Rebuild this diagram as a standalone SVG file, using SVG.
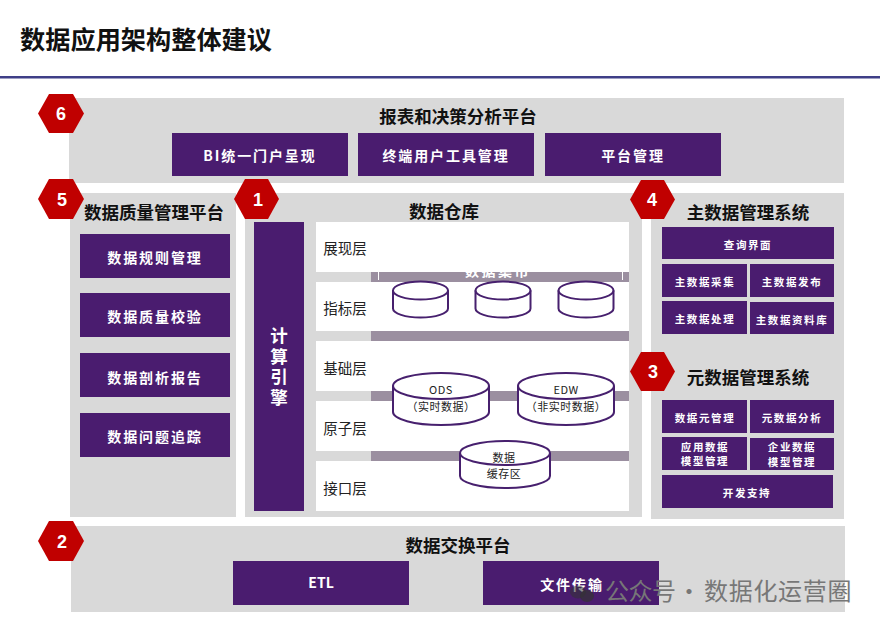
<svg xmlns="http://www.w3.org/2000/svg" width="880" height="626" viewBox="0 0 880 626">
<style>
text{font-family:"Noto Sans CJK SC","Liberation Sans",sans-serif;text-anchor:middle}
.panel{fill:#d9d9d9}
.box{fill:#4a1c6f}
.layer{fill:#fff}
.bar{fill:#9b8fa0}
.hex{fill:#c00000}
.num{fill:#fff;font:bold 18px "Liberation Sans","Noto Sans CJK SC",sans-serif}
.h{fill:#111;font-size:17.5px;font-weight:700}
.b1{fill:#fff;font-size:14px;font-weight:700;letter-spacing:1.9px}
.b2{fill:#fff;font-size:10.5px;font-weight:700;letter-spacing:1.6px}
.lay{fill:#222;font-size:14.5px}
.cyl{fill:#fff;stroke:#47206e;stroke-width:2}
.top{fill:none;stroke:#47206e;stroke-width:2}
.c{fill:#222;font-size:11px;letter-spacing:.5px}
.eng{fill:#fff;font-size:17.5px;font-weight:700;writing-mode:vertical-rl;letter-spacing:3px}
.wm{fill:#777;font-size:24px;text-anchor:start}
</style>
<rect width="880" height="626" fill="#fff"/>
<g id="header">
<text x="146" y="49" style="font-size:25.2px;font-weight:700;fill:#111">数据应用架构整体建议</text>
<rect x="0" y="76" width="880" height="2.5" fill="#3f3f87"/>
</g>
<g id="panel-6">
<rect class="panel" x="69" y="98" width="775" height="85"/>
<text class="h" x="458" y="123">报表和决策分析平台</text>
<rect class="box" x="172" y="133" width="176" height="43"/><text class="b1" x="260" y="161">BI统一门户呈现</text>
<rect class="box" x="358" y="133" width="176" height="43"/><text class="b1" x="446" y="161">终端用户工具管理</text>
<rect class="box" x="545" y="133" width="176" height="43"/><text class="b1" x="633" y="161">平台管理</text>
</g>
<g id="panel-5">
<rect class="panel" x="70" y="193" width="166" height="324"/>
<text class="h" x="154" y="219">数据质量管理平台</text>
<rect class="box" x="80" y="234" width="150" height="44"/><text class="b1" x="155" y="263">数据规则管理</text>
<rect class="box" x="80" y="293" width="150" height="44"/><text class="b1" x="155" y="322">数据质量校验</text>
<rect class="box" x="80" y="353" width="150" height="44"/><text class="b1" x="155" y="383">数据剖析报告</text>
<rect class="box" x="80" y="413" width="150" height="44"/><text class="b1" x="155" y="442">数据问题追踪</text>
</g>
<g id="panel-1">
<rect class="panel" x="245" y="193" width="397" height="324"/>
<text class="h" x="444" y="218">数据仓库</text>
<rect class="box" x="254" y="222" width="50" height="289"/>
<text class="eng" x="279" y="368">计算引擎</text>
<rect class="bar" x="371" y="272" width="258" height="10"/>
<text x="498" y="275.500" style="fill:#fff;font-size:14px;font-weight:700;letter-spacing:2.5px">数据集市</text>
<rect x="378" y="272" width="1" height="8" fill="#fff"/><rect x="622" y="272" width="1" height="8" fill="#fff"/>
<rect class="layer" x="316" y="222" width="313" height="50"/>
<rect class="layer" x="316" y="282" width="313" height="49"/>
<rect class="layer" x="316" y="341" width="313" height="50"/>
<rect class="layer" x="316" y="401" width="313" height="50"/>
<rect class="layer" x="316" y="461" width="313" height="50"/>
<rect class="bar" x="371" y="331" width="258" height="10"/>
<rect class="bar" x="371" y="391" width="258" height="10"/>
<rect class="bar" x="371" y="451" width="258" height="10"/>
<text class="lay" x="345" y="254">展现层</text>
<text class="lay" x="345" y="314">指标层</text>
<text class="lay" x="345" y="374">基础层</text>
<text class="lay" x="345" y="434">原子层</text>
<text class="lay" x="345" y="494">接口层</text>
<path class="cyl" d="M393 290.500a27.500 9 0 0 1 55 0v18a27.500 9 0 0 1-55 0z"/><path class="top" d="M393 290.500a27.500 9 0 0 0 55 0"/>
<path class="cyl" d="M475.500 290.500a27.500 9 0 0 1 55 0v18a27.500 9 0 0 1-55 0z"/><path class="top" d="M475.500 290.500a27.500 9 0 0 0 55 0"/>
<path class="cyl" d="M558.500 290.500a27.500 9 0 0 1 55 0v18a27.500 9 0 0 1-55 0z"/><path class="top" d="M558.500 290.500a27.500 9 0 0 0 55 0"/>
<path class="cyl" d="M393 386a48 13 0 0 1 96 0v26a48 13 0 0 1-96 0z"/><path class="top" d="M393 386a48 13 0 0 0 96 0"/>
<text class="c" x="441" y="394">ODS</text><text class="c" x="441" y="411">（实时数据）</text>
<path class="cyl" d="M518 386a48 13 0 0 1 96 0v26a48 13 0 0 1-96 0z"/><path class="top" d="M518 386a48 13 0 0 0 96 0"/>
<text class="c" x="566" y="394">EDW</text><text class="c" x="566" y="411">（非实时数据）</text>
<path class="cyl" d="M460 453a45 12 0 0 1 90 0v23a45 12 0 0 1-90 0z"/><path class="top" d="M460 453a45 12 0 0 0 90 0"/>
<text class="c" x="504" y="462">数据</text><text class="c" x="504" y="478">缓存区</text>
</g>
<g id="panel-4-3">
<rect class="panel" x="651" y="193" width="193" height="326"/>
<text class="h" x="748" y="219">主数据管理系统</text>
<rect class="box" x="662" y="227" width="172" height="32"/><text class="b2" x="748" y="249">查询界面</text>
<rect class="box" x="662" y="264" width="85" height="33"/><text class="b2" x="705" y="286">主数据采集</text>
<rect class="box" x="750" y="264" width="84" height="33"/><text class="b2" x="792" y="286">主数据发布</text>
<rect class="box" x="662" y="301" width="85" height="33"/><text class="b2" x="705" y="323">主数据处理</text>
<rect class="box" x="750" y="302" width="84" height="32"/><text class="b2" x="792" y="324">主数据资料库</text>
<text class="h" x="748" y="384">元数据管理系统</text>
<rect class="box" x="662" y="400" width="85" height="33"/><text class="b2" x="705" y="422">数据元管理</text>
<rect class="box" x="750" y="400" width="84" height="33"/><text class="b2" x="792" y="422">元数据分析</text>
<rect class="box" x="662" y="437" width="85" height="33"/><text class="b2" x="705" y="451">应用数据</text><text class="b2" x="705" y="465">模型管理</text>
<rect class="box" x="750" y="438" width="84" height="32"/><text class="b2" x="792" y="451">企业数据</text><text class="b2" x="792" y="466">模型管理</text>
<rect class="box" x="662" y="475" width="171" height="33"/><text class="b2" x="747" y="497">开发支持</text>
</g>
<g id="panel-2">
<rect class="panel" x="71" y="526" width="774" height="86"/>
<text class="h" x="458" y="552">数据交换平台</text>
<rect class="box" x="233" y="561" width="176" height="44"/><text x="321" y="588" style="fill:#fff;font-size:14px;font-weight:700">ETL</text>
<rect class="box" x="483" y="561" width="176" height="44"/><text class="b1" x="572" y="590">文件传输</text>
</g>
<g id="badges">
<g id="badge-6"><path class="hex" d="M38 113.500 49 94H73L84 113.500 73 133H49z"/><text class="num" x="61" y="120">6</text></g>
<g id="badge-5"><path class="hex" d="M38 199 49 179H73L84 199 73 219H49z"/><text class="num" x="62" y="206">5</text></g>
<g id="badge-1"><path class="hex" d="M234 199 245 179H268L279 199 268 219H245z"/><text class="num" x="258" y="206">1</text></g>
<g id="badge-4"><path class="hex" d="M630 199.500 641 180H664L675 199.500 664 219H641z"/><text class="num" x="652" y="206">4</text></g>
<g id="badge-3"><path class="hex" d="M630 371.500 641 352H664L675 371.500 664 391H641z"/><text class="num" x="653" y="378">3</text></g>
<g id="badge-2"><path class="hex" d="M38 541 49 521H73L84 541 73 561H49z"/><text class="num" x="62" y="548">2</text></g>
</g>
<g id="watermark">
<ellipse cx="578" cy="592" rx="8" ry="6.500" fill="#333" opacity=".55"/>
<ellipse cx="587" cy="596" rx="7" ry="6" fill="#333" opacity=".7"/>
<text class="wm" y="600"><tspan x="605" style="letter-spacing:-.5px">公众号</tspan><tspan x="677">·</tspan><tspan x="704" style="letter-spacing:.7px">数据化运营圈</tspan></text>
</g>
</svg>
